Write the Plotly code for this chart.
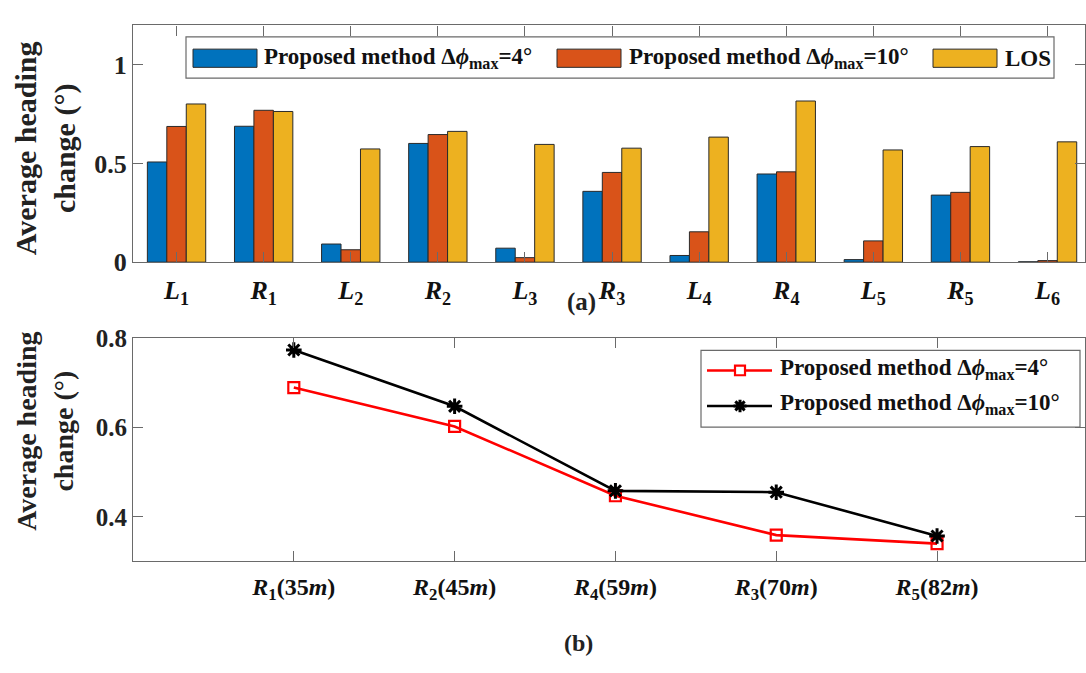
import plotly.graph_objects as go

# ---- data ----
segments = ["L1", "R1", "L2", "R2", "L3", "R3", "L4", "R4", "L5", "R5", "L6"]
segment_labels = [
    "<i>L</i><sub>1</sub>", "<i>R</i><sub>1</sub>", "<i>L</i><sub>2</sub>",
    "<i>R</i><sub>2</sub>", "<i>L</i><sub>3</sub>", "<i>R</i><sub>3</sub>",
    "<i>L</i><sub>4</sub>", "<i>R</i><sub>4</sub>", "<i>L</i><sub>5</sub>",
    "<i>R</i><sub>5</sub>", "<i>L</i><sub>6</sub>",
]
heading_dphi4 = [0.508, 0.689, 0.092, 0.602, 0.071, 0.359, 0.034, 0.447, 0.013, 0.340, 0.002]
heading_dphi10 = [0.688, 0.770, 0.063, 0.647, 0.023, 0.455, 0.154, 0.458, 0.108, 0.354, 0.008]
heading_los = [0.802, 0.764, 0.574, 0.663, 0.597, 0.578, 0.634, 0.817, 0.569, 0.586, 0.610]

turns = ["R1", "R2", "R4", "R3", "R5"]
turn_labels = [
    "<i>R</i><sub>1</sub>(35<i>m</i>)", "<i>R</i><sub>2</sub>(45<i>m</i>)",
    "<i>R</i><sub>4</sub>(59<i>m</i>)", "<i>R</i><sub>3</sub>(70<i>m</i>)",
    "<i>R</i><sub>5</sub>(82<i>m</i>)",
]
turn_dphi4 = [0.689, 0.602, 0.447, 0.359, 0.340]
turn_dphi10 = [0.773, 0.647, 0.458, 0.455, 0.357]

y_ticks_a = [0, 0.5, 1]
y_ticks_b = [0.4, 0.6, 0.8]

# ---- styling ----
W, H = 1086, 673
FONT = "Liberation Serif"
AX = "#6a6a6a"
C_BLUE, C_ORANGE, C_YELLOW = "#0072BD", "#D95319", "#EDB120"
NAME4 = "Proposed method Δ<i>ϕ</i><sub>max</sub>=4°"
NAME10 = "Proposed method Δ<i>ϕ</i><sub>max</sub>=10°"
TXT = dict(family=FONT, size=23, weight="bold", color="#111111")


def fx(px):
    return px / W


def fy(py):
    return 1 - py / H


fig = go.Figure()

# (a) grouped bars
for vals, color, name in [(heading_dphi4, C_BLUE, NAME4),
                          (heading_dphi10, C_ORANGE, NAME10),
                          (heading_los, C_YELLOW, "LOS")]:
    fig.add_trace(go.Bar(
        x=segments, y=vals, name=name, showlegend=False,
        marker=dict(color=color, line=dict(color="#2a2a2a", width=1)),
        xaxis="x", yaxis="y",
    ))

# (b) lines
fig.add_trace(go.Scatter(
    x=turns, y=turn_dphi4, name=NAME4, mode="lines+markers", showlegend=False,
    line=dict(color="#FF0000", width=2.6),
    marker=dict(symbol="square-open", size=11, color="#FF0000", line=dict(width=2.2)),
    xaxis="x2", yaxis="y2",
))
fig.add_trace(go.Scatter(
    x=turns, y=turn_dphi10, name=NAME10, mode="lines+markers", showlegend=False,
    line=dict(color="#000000", width=2.6),
    marker=dict(symbol="asterisk-open", size=13, color="#000000",
                line=dict(width=3, color="#000000")),
    xaxis="x2", yaxis="y2",
))

axis_common = dict(
    showline=True, linecolor=AX, linewidth=1.2, mirror="ticks",
    ticks="inside", ticklen=10, tickcolor=AX, tickwidth=1.2,
    showgrid=False, zeroline=False,
)

fig.update_layout(
    width=W, height=H,
    margin=dict(l=0, r=0, t=0, b=0),
    paper_bgcolor="white", plot_bgcolor="white",
    barmode="group", bargap=0.33, bargroupgap=0,
    font=dict(family=FONT, color="#222222"),
    showlegend=False,
    xaxis=dict(
        axis_common, domain=[fx(133), fx(1085)], anchor="y",
        type="category", categoryorder="array", categoryarray=segments,
        range=[-0.5, 10.43], tickvals=segments, ticktext=segment_labels,
        ticklabelstandoff=5,
        tickfont=dict(family=FONT, size=26, weight="bold", color="#111111"),
    ),
    yaxis=dict(
        axis_common, domain=[fy(260), fy(13)], anchor="x",
        range=[0, 1.2], tickvals=y_ticks_a, ticktext=["0", "0.5", "1"],
        tickfont=dict(family=FONT, size=26, weight="bold", color="#222222"),
    ),
    xaxis2=dict(
        axis_common, domain=[fx(133), fx(1085)], anchor="y2",
        type="category", categoryorder="array", categoryarray=turns,
        range=[-1, 4.92], tickvals=turns, ticktext=turn_labels,
        ticklabelstandoff=4,
        tickfont=dict(family=FONT, size=24, weight="bold", color="#111111"),
    ),
    yaxis2=dict(
        axis_common, domain=[fy(572.3), fy(339)], anchor="x2",
        range=[0.3, 0.8], tickvals=y_ticks_b, ticktext=["0.4", "0.6", "0.8"],
        tickfont=dict(family=FONT, size=25, weight="bold", color="#222222"),
    ),
)

shapes = []
annos = []


def rect(x0, y0, x1, y1, fill, line_color, width=1.0):
    shapes.append(dict(type="rect", xref="paper", yref="paper",
                       x0=fx(x0), x1=fx(x1), y0=fy(y1), y1=fy(y0),
                       line=dict(color=line_color, width=width),
                       fillcolor=fill, layer="above"))


def label(x, y, text, font=TXT):
    annos.append(dict(xref="paper", yref="paper", x=fx(x), y=fy(y),
                      xanchor="left", yanchor="middle", showarrow=False,
                      text=text, font=font))


# legend box for the bar panel (wide colour patches)
rect(186, 25, 1054, 68, "white", AX, 1.2)
for color, px0, tx, name in [(C_BLUE, 193, 262, NAME4),
                             (C_ORANGE, 557, 627, NAME10),
                             (C_YELLOW, 933, 1003, "LOS")]:
    rect(px0, 37.7, px0 + 64, 56.7, color, "#2a2a2a")
    label(tx, 47, name)

# legend box for the line panel
rect(701, 352, 1080, 432, "white", AX, 1.2)
for yrow, color in [(373, "#FF0000"), (410, "#000000")]:
    shapes.append(dict(type="line", xref="paper", yref="paper",
                       x0=fx(707), x1=fx(772), y0=fy(yrow), y1=fy(yrow),
                       line=dict(color=color, width=2.6), layer="above"))
# square-open symbol
rect(735, 368, 745, 378, "white", "#FF0000", 2.2)
# asterisk symbol
cx, cy, r = 740, 410, 6.5
star = ""
for dx, dy in [(r, 0), (0, r), (r * 0.72, r * 0.72), (r * 0.72, -r * 0.72)]:
    star += f"M{fx(cx - dx)},{fy(cy - dy)} L{fx(cx + dx)},{fy(cy + dy)} "
shapes.append(dict(type="path", xref="paper", yref="paper", path=star,
                   line=dict(color="#000000", width=3), layer="above"))
label(778, 371, NAME4)
label(778, 408, NAME10)

# axis titles and panel labels
for yc, size in [(141, 30), (437, 28)]:
    annos.append(dict(xref="paper", yref="paper", x=fx(45), y=fy(yc),
                      xanchor="center", yanchor="middle", showarrow=False, textangle=-90,
                      text="Average heading<br>change (°)",
                      font=dict(family=FONT, size=size, weight="bold", color="#222222")))
annos.append(dict(xref="paper", yref="paper", x=fx(581), y=fy(302), xanchor="center",
                  yanchor="middle", showarrow=False, text="(a)",
                  font=dict(family=FONT, size=25, weight="bold", color="#222222")))
annos.append(dict(xref="paper", yref="paper", x=fx(578), y=fy(657), xanchor="center",
                  yanchor="middle", showarrow=False, text="(b)",
                  font=dict(family=FONT, size=24, weight="bold", color="#222222")))

fig.update_layout(shapes=shapes, annotations=annos)

fig.write_html("out.html")
